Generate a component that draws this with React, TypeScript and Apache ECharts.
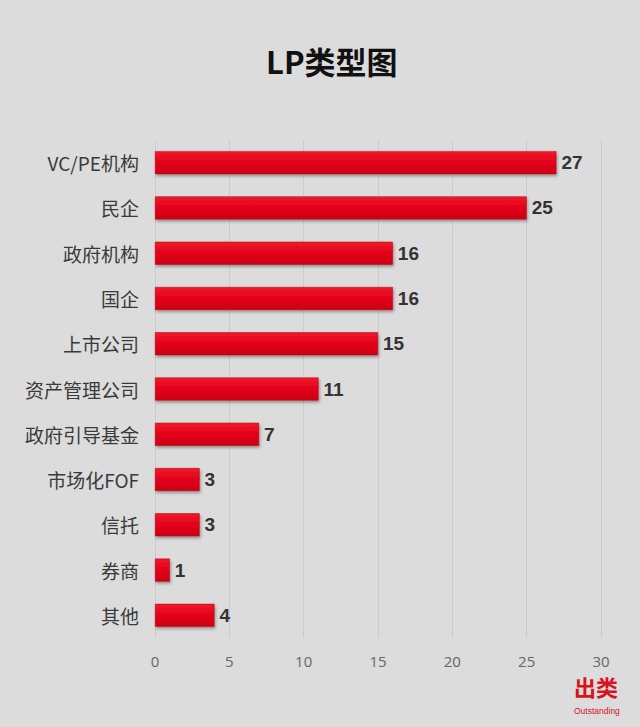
import React, { useEffect, useRef } from "react";
import * as echarts from "echarts";

const categories = ["VC/PE机构", "民企", "政府机构", "国企", "上市公司", "资产管理公司", "政府引导基金", "市场化FOF", "信托", "券商", "其他"];
const values = [27, 25, 16, 16, 15, 11, 7, 3, 3, 1, 4];
const titleText = "LP类型图";

export default function App() {
  const ref = useRef<HTMLDivElement>(null);
  useEffect(() => {
    const chart = echarts.init(ref.current!, null, { renderer: "svg" });
    chart.setOption({
      animation: false,
      backgroundColor: "#dcdcdc",
      title: {
        text: titleText,
        left: 261,
        top: 40,
        textStyle: { fontSize: 31, fontWeight: "bold", color: "#111", fontFamily: "Noto Sans CJK SC" },
      },
      grid: { left: 155, right: 39, top: 140, bottom: 89, containLabel: false },
      xAxis: {
        type: "value",
        min: 0,
        max: 30,
        interval: 5,
        axisLine: { show: false },
        axisTick: { show: false },
        splitLine: { show: true, lineStyle: { color: "#cbcbcb", width: 1 } },
        axisLabel: { color: "#666", fontSize: 15, margin: 15, fontFamily: "Open Sans" },
      },
      yAxis: {
        type: "category",
        inverse: true,
        data: categories,
        axisLine: { show: false },
        axisTick: { show: false },
        axisLabel: { color: "#3a3a3a", fontSize: 19, margin: 16, fontFamily: "Noto Sans CJK SC" },
      },
      series: [
        {
          type: "bar",
          data: values,
          barWidth: 23,
          itemStyle: {
            color: new echarts.graphic.LinearGradient(0, 0, 0, 1, [
              { offset: 0, color: "#ee1a2a" },
              { offset: 0.5, color: "#e3001a" },
              { offset: 1, color: "#c90016" },
            ]),
            borderColor: "#b80014",
            borderWidth: 0.5,
            shadowColor: "rgba(0,0,0,0.35)",
            shadowBlur: 3,
            shadowOffsetX: 1,
            shadowOffsetY: 2,
          },
          label: {
            show: true,
            position: "right",
            distance: 5,
            color: "#333",
            fontSize: 19,
            fontWeight: "bold",
            fontFamily: "Liberation Sans",
          },
        },
      ],
      graphic: [
        {
          type: "text",
          left: 574,
          top: 675,
          style: { text: "出类", fill: "#d7131f", fontSize: 22, fontWeight: "bold", fontFamily: "Noto Sans CJK SC" },
        },
        {
          type: "text",
          left: 574,
          top: 706,
          style: { text: "Outstanding", fill: "#d7131f", fontSize: 8.5, fontFamily: "Liberation Sans" },
        },
      ],
    });
    return () => chart.dispose();
  }, []);
  return <div ref={ref} style={{ position: "fixed", left: 0, top: 0, width: 640, height: 727 }} />;
}
